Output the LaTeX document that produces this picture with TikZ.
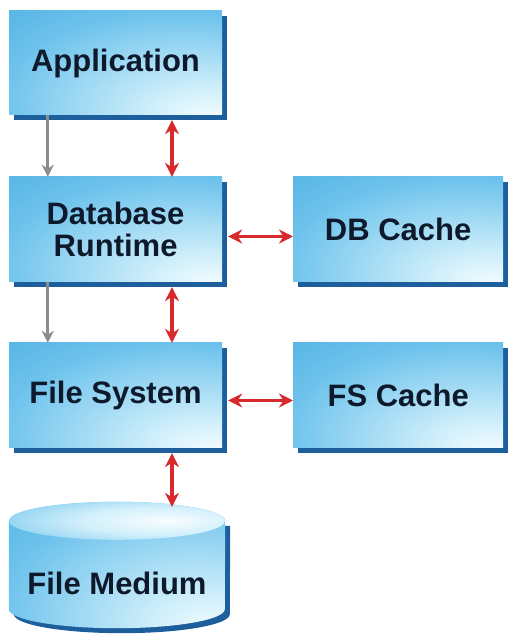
\documentclass[tikz,border=0pt]{standalone}
\usepackage{fontspec}
\setmainfont{Liberation Sans}
\usetikzlibrary{shapes.geometric,arrows.meta,positioning,calc,shadows}

\definecolor{glowdark}{HTML}{1E91D1}
\definecolor{glowmid}{HTML}{6CC2EC}
\definecolor{glowlight}{HTML}{D2F0FB}
\definecolor{glowwhite}{HTML}{F8FDFF}
\definecolor{shadowblue}{HTML}{1D5E9C}
\definecolor{labelink}{HTML}{0E1A2C}
\definecolor{linkred}{HTML}{D8292D}
\definecolor{flowgray}{HTML}{8C8C8C}

\pgfdeclareradialshading{boxglow}{\pgfpoint{24bp}{-28bp}}{%
  color(0bp)=(glowwhite); color(12bp)=(glowlight); color(42bp)=(glowmid);
  color(90bp)=(glowdark); color(110bp)=(glowdark)}
\pgfdeclareradialshading{lidglow}{\pgfpoint{12bp}{0bp}}{%
  color(0bp)=(glowwhite); color(18bp)=(glowlight); color(44bp)=(glowmid);
  color(66bp)=(glowdark); color(100bp)=(glowdark)}

\begin{document}
\begin{tikzpicture}[x=1pt,y=1pt]

  \tikzstyle{layer}=[shape=rectangle, shading=boxglow, text=labelink, inner sep=0pt, align=center,
    font=\fontsize{31}{32}\selectfont\bfseries,
    drop shadow={shadow xshift=5pt, shadow yshift=-5pt, fill=shadowblue, opacity=1}]
  \tikzstyle{store}=[shape=rectangle, inner sep=0pt]
  \tikzstyle{storetext}=[text=labelink, font=\fontsize{31}{32}\selectfont\bfseries]
  \tikzstyle{duplex}=[draw=linkred, line width=3.5pt, {Stealth[length=14pt,width=14pt]}-{Stealth[length=14pt,width=14pt]}]
  \tikzstyle{flow}=[draw=flowgray, line width=3pt, -{Stealth[length=12pt,width=12pt]}]

  \useasboundingbox (0,0) rectangle (508,638);

  \node [layer,minimum width=213pt,minimum height=104pt] (app) at (115.5,575) {Application};
  \node [layer,minimum width=213pt,minimum height=105pt] (dbr) at (115.5,408.5) {Database\\Runtime};
  \node [layer,minimum width=210pt,minimum height=105pt] (dbc) at ($(dbr.east)+(176pt,0)$) {DB Cache};
  \node [layer,minimum width=213pt,minimum height=105pt] (fs) at (115.5,242.5) {File System};
  \node [layer,minimum width=210pt,minimum height=105pt] (fsc) at ($(fs.east)+(176pt,0)$) {FS Cache};

  % file medium drum
  \node [store,minimum width=216pt,minimum height=126pt] (fm) at (117,73) {};
  \fill [shadowblue] ($(fm.north west)+(5pt,-24pt)$) -- ($(fm.south west)+(5pt,14pt)$)
    arc [start angle=180, end angle=360, x radius=108pt, y radius=19pt]
    -- ($(fm.north east)+(5pt,-24pt)$) -- cycle;
  \path [shading=boxglow] ($(fm.north west)+(0,-19pt)$) -- ($(fm.south west)+(0,19pt)$)
    arc [start angle=180, end angle=360, x radius=108pt, y radius=19pt]
    -- ($(fm.north east)+(0,-19pt)$)
    arc [start angle=0, end angle=180, x radius=108pt, y radius=19pt] -- cycle;
  \path [shading=lidglow] ($(fm.north)+(0,-19pt)$) ellipse (108pt and 19pt);
  \node [storetext] (fmtext) at ($(fm.center)+(0,-18pt)$) {File Medium};

  \draw [flow] ($(app.south west)+(39pt,0)$) -- ($(dbr.north west)+(39pt,0)$);
  \draw [duplex] ($(app.south)+(56.5pt,-5pt)$) -- ($(dbr.north)+(56.5pt,0)$);
  \draw [flow] ($(dbr.south west)+(39pt,0)$) -- ($(fs.north west)+(39pt,0)$);
  \draw [duplex] ($(dbr.south)+(56.5pt,-5pt)$) -- ($(fs.north)+(56.5pt,0)$);
  \draw [duplex] ($(dbr.east)+(6pt,-7pt)$) -- ($(dbc.west)+(0,-7pt)$);
  \draw [duplex] ($(fs.east)+(6pt,-5pt)$) -- ($(fsc.west)+(0,-5pt)$);
  \draw [duplex] ($(fs.south)+(56.5pt,-5pt)$) -- ($(fm.north)+(55pt,-5pt)$);
\end{tikzpicture}
\end{document}
